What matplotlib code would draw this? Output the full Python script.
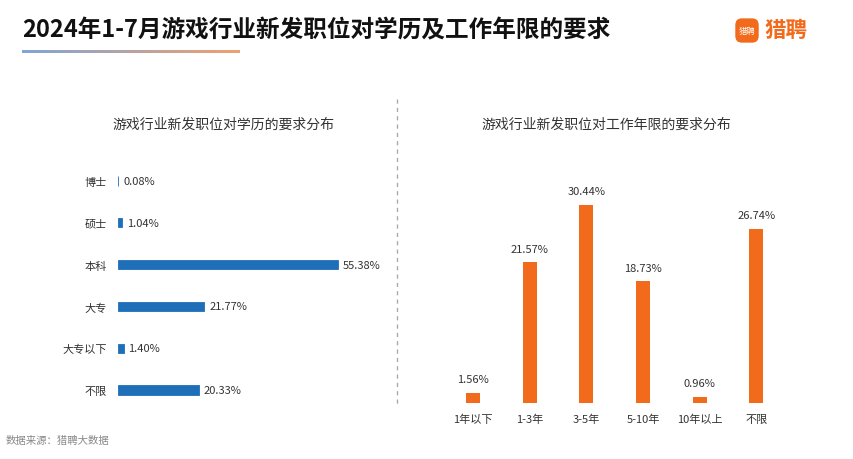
import matplotlib
matplotlib.use("Agg")
import matplotlib.pyplot as plt
from matplotlib.patches import FancyBboxPatch
from matplotlib.colors import LinearSegmentedColormap
import numpy as np

plt.rcParams['font.family'] = ['Noto Sans CJK SC', 'DejaVu Sans']

edu_cats = ["博士", "硕士", "本科", "大专", "大专以下", "不限"]
edu_vals = [0.08, 1.04, 55.38, 21.77, 1.40, 20.33]
exp_cats = ["1年以下", "1-3年", "3-5年", "5-10年", "10年以上", "不限"]
exp_vals = [1.56, 21.57, 30.44, 18.73, 0.96, 26.74]

W, H = 854, 460
fig = plt.figure(figsize=(W/100, H/100), dpi=100)
fig.patch.set_facecolor("white")

def px(x0, y0, x1, y1):
    return [x0/W, 1-y1/H, (x1-x0)/W, (y1-y0)/H]

blue = "#1f6fb8"
orange = "#f26a1b"

fig.text(22/W, 1-30/H, "2024年1-7月游戏行业新发职位对学历及工作年限的要求", fontsize=17,
         fontweight="bold", va="center", ha="left", color="#111111")
gax = fig.add_axes(px(22, 51, 240, 54))
grad = np.linspace(0, 1, 256).reshape(1, -1)
cm = LinearSegmentedColormap.from_list("g", ["#7fa6d6", "#f0a070"])
gax.imshow(grad, aspect="auto", cmap=cm)
gax.axis("off")
lax = fig.add_axes(px(734, 18, 760, 45))
lax.add_patch(FancyBboxPatch((0.05, 0.05), 0.9, 0.9, boxstyle="round,pad=0,rounding_size=0.25",
                             fc=orange, ec="none"))
lax.text(0.5, 0.5, "猎聘", color="white", fontsize=6, ha="center", va="center")
lax.set_xlim(0, 1); lax.set_ylim(0, 1); lax.axis("off")
fig.text(765/W, 1-31/H, "猎聘", fontsize=15.5, color=orange, va="center", ha="left", fontweight="bold")

fig.text(223/W, 1-125/H, "游戏行业新发职位对学历的要求分布", fontsize=10, ha="center", va="center", color="#333333")
fig.text(606/W, 1-125/H, "游戏行业新发职位对工作年限的要求分布", fontsize=10, ha="center", va="center", color="#333333")

fig.add_artist(plt.Line2D([397/W, 397/W], [1-100/H, 1-405/H], ls=(0, (3, 3)), color="#aaaaaa", lw=1))

ax1 = fig.add_axes(px(118, 161, 400, 412))
y = np.arange(len(edu_cats))
ax1.barh(y, edu_vals, height=0.22, color=blue, edgecolor=blue, linewidth=0.6)
ax1.set_ylim(5.5, -0.5)
ax1.set_xlim(0, 71)
ax1.set_yticks(y)
ax1.set_yticklabels(edu_cats, fontsize=8, color="#333333")
ax1.tick_params(axis="y", length=0, pad=8)
ax1.set_xticks([])
for s in ax1.spines.values():
    s.set_visible(False)
for yi, v in zip(y, edu_vals):
    ax1.text(v + 1.2, yi, f"{v:.2f}%", va="center", ha="left", fontsize=8, color="#333333")

ax2 = fig.add_axes(px(444.7, 176, 784.7, 404))
x = np.arange(len(exp_cats))
ax2.bar(x, exp_vals, width=0.25, color=orange)
ax2.set_xlim(-0.5, 5.5)
ax2.set_ylim(0, 35)
ax2.set_xticks(x)
ax2.set_xticklabels(exp_cats, fontsize=8, color="#333333")
ax2.tick_params(axis="x", length=0, pad=8)
ax2.set_yticks([])
for s in ax2.spines.values():
    s.set_visible(False)
for xi, v in zip(x, exp_vals):
    ax2.text(xi, v + 1.3, f"{v:.2f}%", ha="center", va="bottom", fontsize=8, color="#333333")

fig.text(6/W, 1-441/H, "数据来源：猎聘大数据", fontsize=7.5, color="#888888", va="center")

fig.savefig("out.png", dpi=100)
